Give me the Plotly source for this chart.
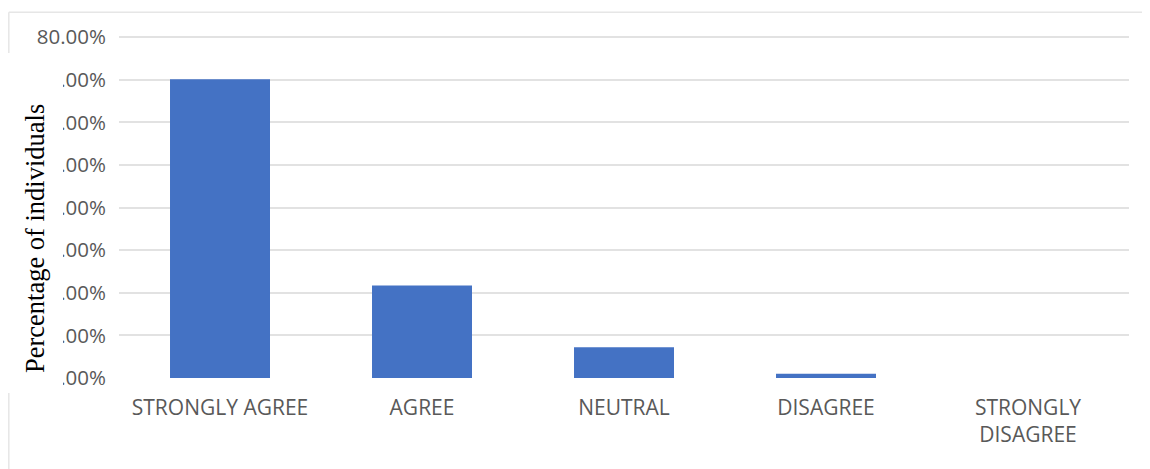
import plotly.graph_objects as go

categories = ["STRONGLY AGREE", "AGREE", "NEUTRAL", "DISAGREE", "STRONGLY<br>DISAGREE"]
percentages = [0.701, 0.217, 0.072, 0.010, 0.0]
y_ticks = [0, 0.1, 0.2, 0.3, 0.4, 0.5, 0.6, 0.7, 0.8]
y_title = "Percentage of individuals"
y_max = 0.805

OFF = 8  # page body margin
ZERO_Y, TOP80_Y = 378, 37          # page pixels of 0% and 80%
PX_PER_UNIT = (ZERO_Y - TOP80_Y) / 0.8
W, H = 1150 - OFF, 469 - OFF
L = 119 - OFF
T = (ZERO_Y - y_max * PX_PER_UNIT) - OFF
R = W - (1129 - OFF)
B = H - (ZERO_Y - OFF)
pw, ph = W - L - R, H - T - B

def px(x):
    return (x - OFF - L) / pw

def py(y):
    return (H - B - (y - OFF)) / ph

fig = go.Figure(go.Bar(
    x=categories, y=percentages,
    marker=dict(color="#4472C4", line=dict(width=0)),
    width=0.495,
))

fig.update_layout(
    width=W, height=H,
    margin=dict(l=L, r=R, t=T, b=B, pad=0),
    paper_bgcolor="white", plot_bgcolor="white",
    showlegend=False,
    font=dict(family="Open Sans", color="#595959"),
    xaxis=dict(
        showgrid=False, showline=False, zeroline=False, ticks="",
        tickfont=dict(size=21, color="#595959", family="Open Sans"),
        ticklabelstandoff=15,
    ),
    yaxis=dict(
        range=[0, y_max], tickvals=y_ticks, tickformat=".2%",
        showgrid=True, gridcolor="#e2e2e2", gridwidth=1.5,
        zeroline=False, showline=False, ticks="",
        tickfont=dict(size=20.5, color="#595959", family="Open Sans"),
        ticklabelstandoff=12,
    ),
    shapes=[
        dict(type="line", xref="paper", yref="paper", layer="below",
             x0=px(8.8), x1=px(1150), y0=py(12), y1=py(12),
             line=dict(color="#e6e6e6", width=1.5)),
        dict(type="line", xref="paper", yref="paper", layer="below",
             x0=px(8.8), x1=px(8.8), y0=py(12), y1=py(469),
             line=dict(color="#e6e6e6", width=1.5)),
        dict(type="rect", xref="paper", yref="paper", layer="above",
             x0=px(6), x1=px(63), y0=py(393), y1=py(53),
             fillcolor="white", line=dict(width=0)),
    ],
    annotations=[
        dict(text=y_title, xref="paper", yref="paper",
             x=px(35), y=py(239), xanchor="center", yanchor="middle",
             textangle=-90, showarrow=False,
             font=dict(family="Liberation Serif", size=26.5, color="black")),
    ],
)

fig.write_html("out.html")
